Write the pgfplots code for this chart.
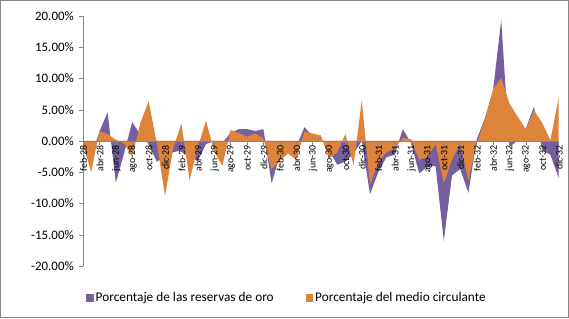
\documentclass[border=0pt]{standalone}
\usepackage{fontspec}
\setmainfont{Carlito}
\usepackage{pgfplots}
\pgfplotsset{compat=1.18}
\definecolor{oro}{RGB}{117,95,158}
\definecolor{circ}{RGB}{221,132,59}
\definecolor{axgray}{RGB}{134,134,134}
\begin{document}
\begin{tikzpicture}
\useasboundingbox (-83pt,-52pt) rectangle (486pt,266pt);
\draw[axgray, line width=1pt] (-82.5pt,-51.5pt) rectangle (485.5pt,265.5pt);
\begin{axis}[
  at={(0pt,0pt)}, anchor=south west,
  scale only axis, width=475.6pt, height=250pt,
  xmin=0, xmax=58, ymin=-20, ymax=20,
  axis y line=left, axis x line=middle,
  axis line style={-, axgray},
  hide obscured x ticks=false, hide obscured y ticks=false,
  axis on top,
  tick style={axgray, thin},
  tick align=outside, major tick length=4pt,
  ytick={-20,-15,...,20},
  yticklabels={-20.00\%,-15.00\%,-10.00\%,-5.00\%,0.00\%,5.00\%,10.00\%,15.00\%,20.00\%},
  yticklabel style={font=\fontsize{12.9}{14}\selectfont, inner sep=0pt, anchor=east, xshift=-5pt},
  xtick={0,2,...,58},
  xticklabels={feb-28,abr-28,jun-28,ago-28,oct-28,dic-28,
               feb-29,abr-29,jun-29,ago-29,oct-29,dic-29,
               feb-30,abr-30,jun-30,ago-30,oct-30,dic-30,
               feb-31,abr-31,jun-31,ago-31,oct-31,dic-31,
               feb-32,abr-32,jun-32,ago-32,oct-32,dic-32},
  xticklabel style={font=\fontsize{9.9}{11}\selectfont, rotate=90, anchor=east, inner sep=0pt, yshift=-0.5pt},
  legend style={at={(axis description cs:0,0)}, anchor=west, xshift=3pt, yshift=-32pt,
    draw=none, fill=none, inner sep=0pt, font=\fontsize{13.3}{15}\selectfont,
    /tikz/every even column/.append style={column sep=30pt}},
  legend columns=2,
  legend image code/.code={\fill[#1] (0pt,-3.8pt) rectangle (7.5pt,3.8pt);},
]
\addplot[fill=oro, draw=none] coordinates {
(0,-0.3) (1,-2.5) (2,1.5) (3,4.6) (4,-6.7) (5,-2.0) (6,3.0) (7,1.0) (8,-0.5) (9,-3.3)
(10,-2.5) (11,-1.8) (12,-1.5) (13,-2.5) (14,-3.2) (15,-0.5) (16,0.0) (17,-0.3) (18,1.3) (19,1.9)
(20,1.9) (21,1.6) (22,1.9) (23,-6.8) (24,-2.3) (25,-2.0) (26,-1.0) (27,2.2) (28,0.8) (29,0.5)
(30,-1.5) (31,-3.8) (32,-3.3) (33,-2.0) (34,0.0) (35,-8.5) (36,-5.0) (37,-2.6) (38,-2.2) (39,1.9)
(40,-0.3) (41,-5.2) (42,-4.1) (43,-4.0) (44,-16.0) (45,-5.5) (46,-4.5) (47,-8.3) (48,0.2) (49,3.6)
(50,8.0) (51,19.4) (52,-1.0) (53,0.1) (54,2.0) (55,5.5) (56,-1.5) (57,-2.2) (58,-5.9)
} \closedcycle;
\addlegendentry{Porcentaje de las reservas de oro}
\addplot[fill=circ, draw=none] coordinates {
(0,-0.5) (1,-5.0) (2,1.6) (3,1.1) (4,0.2) (5,-0.4) (6,-2.5) (7,2.9) (8,6.4) (9,-0.3)
(10,-8.8) (11,-1.2) (12,2.8) (13,-6.3) (14,-1.0) (15,3.25) (16,-1.7) (17,-4.0) (18,1.75) (19,1.3)
(20,0.7) (21,1.2) (22,0.4) (23,-4.5) (24,-3.2) (25,-2.0) (26,-3.0) (27,1.5) (28,1.2) (29,0.9)
(30,-2.8) (31,-1.8) (32,1.1) (33,-3.9) (34,6.5) (35,-7.0) (36,-3.5) (37,-1.8) (38,-1.2) (39,0.5)
(40,0.3) (41,-3.0) (42,-2.5) (43,-0.5) (44,-6.8) (45,-3.0) (46,-0.5) (47,-6.3) (48,-0.5) (49,3.4)
(50,8.2) (51,10.1) (52,6.0) (53,3.9) (54,1.9) (55,4.9) (56,2.9) (57,0.1) (58,6.9)
} \closedcycle;
\addlegendentry{Porcentaje del medio circulante}
\end{axis}
\end{tikzpicture}
\end{document}
